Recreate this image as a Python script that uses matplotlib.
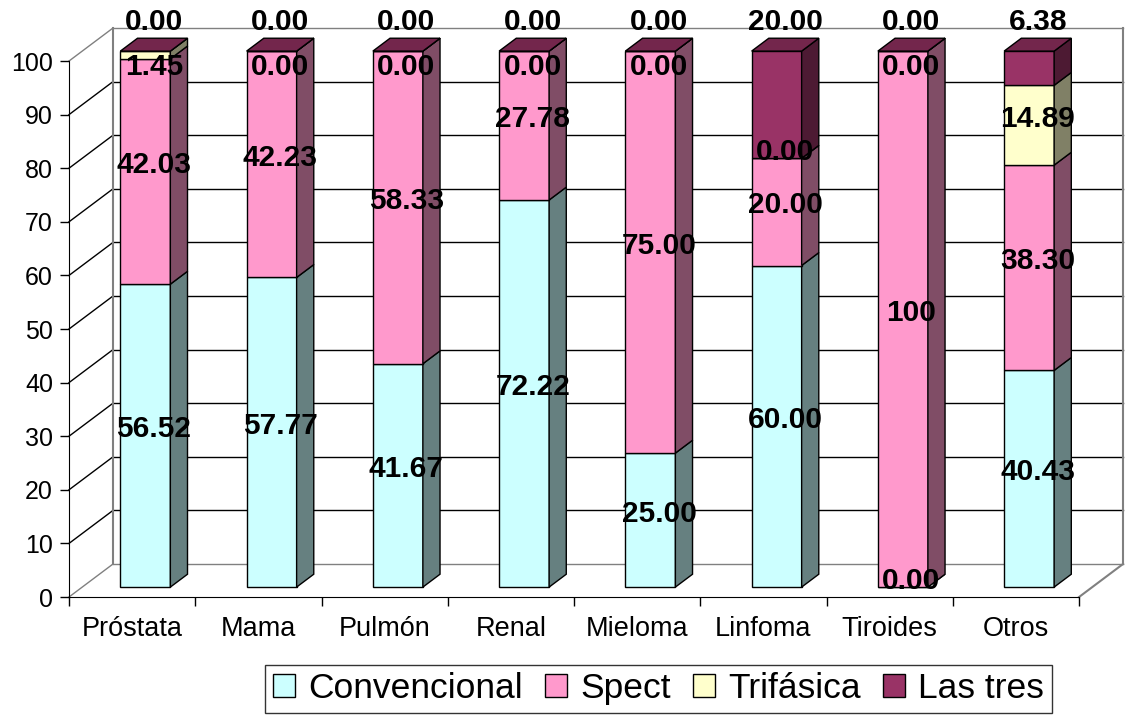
import matplotlib.pyplot as plt
from matplotlib.patches import Polygon, Patch

# Share of each technique per tumour type (%)
categories = ['Próstata', 'Mama', 'Pulmón', 'Renal', 'Mieloma', 'Linfoma', 'Tiroides', 'Otros']
series = ['Convencional', 'Spect', 'Trifásica', 'Las tres']
convencional = [56.52, 57.77, 41.67, 72.22, 25.00, 60.00, 0.00, 40.43]
spect = [42.03, 42.23, 58.33, 27.78, 75.00, 20.00, 100, 38.30]
trifasica = [1.45, 0.00, 0.00, 0.00, 0.00, 0.00, 0.00, 14.89]
las_tres = [0.00, 0.00, 0.00, 0.00, 0.00, 20.00, 0.00, 6.38]

front_colors = ['#CCFFFF', '#FF99CC', '#FFFFCC', '#993366']
side_colors = ['#668080', '#804D66', '#808066', '#4D1A33']
top_color = '#73264C'
gray = '#808080'

plt.rcParams['font.family'] = ['Liberation Sans', 'DejaVu Sans']

# fake 3D: depth of the box in x (categories) and y (percent) units
DX, DY = 0.3485, 6.16
F1, F2 = 0.30, 0.69   # front / back of the columns inside the depth
FM = (F1 + F2) / 2
W = 0.396

fig = plt.figure(figsize=(11.26, 7.16), dpi=100)
ax = fig.add_axes([0.0613, 0.1662, 0.9361, 0.7947])
ax.set_xlim(-0.5, len(categories) - 0.5 + DX)
ax.set_ylim(0, 100 + DY)
xr = len(categories) - 0.5

# walls and floor
for v in range(0, 101, 10):
    c = gray if v in (0, 100) else 'black'
    ax.plot([-0.5 + DX, xr + DX], [v + DY, v + DY], color=c, lw=1, zorder=1, clip_on=False)
    ax.plot([-0.5, -0.5 + DX], [v, v + DY], color=c, lw=1, zorder=1, clip_on=False)
ax.plot([-0.5 + DX] * 2, [DY, 100 + DY], color=gray, lw=1.5, zorder=1, clip_on=False)
ax.plot([xr + DX] * 2, [DY, 100 + DY], color=gray, lw=1.5, zorder=1, clip_on=False)
ax.plot([xr, xr + DX], [0, DY], color=gray, lw=1.5, zorder=1, clip_on=False)

# stacked columns
stack = [convencional, spect, trifasica, las_tres]
xs = [i + F1 * DX for i in range(len(categories))]
ddx, ddy = (F2 - F1) * DX, (F2 - F1) * DY
bottoms = []
base = [0.0] * len(categories)
for s, vals in enumerate(stack):
    bottoms.append(base[:])
    ax.bar(xs, vals, bottom=[b + F1 * DY for b in base], width=W,
           color=front_colors[s], edgecolor='black', linewidth=1, zorder=3)
    for i, v in enumerate(vals):
        xe = xs[i] + W / 2
        b, t = base[i] + F1 * DY, base[i] + v + F1 * DY
        ax.add_patch(Polygon([(xe, b), (xe + ddx, b + ddy), (xe + ddx, t + ddy), (xe, t)],
                             closed=True, facecolor=side_colors[s], edgecolor='black',
                             linewidth=1, zorder=3))
    base = [b + v for b, v in zip(base, vals)]

for i, total in enumerate(base):
    xl, xe = xs[i] - W / 2, xs[i] + W / 2
    t = total + F1 * DY
    ax.add_patch(Polygon([(xl, t), (xe, t), (xe + ddx, t + ddy), (xl + ddx, t + ddy)],
                         closed=True, facecolor=top_color, edgecolor='black',
                         linewidth=1, zorder=4))

# value labels (last series goes in a row above the box)
for s, vals in enumerate(stack):
    for i, v in enumerate(vals):
        if s == len(stack) - 1:
            y = 107.3
        else:
            y = min(bottoms[s][i] + v / 2 + FM * DY, 98.9)
        txt = '100' if v == 100 else f'{v:.2f}'
        ax.text(i + FM * DX, y, txt, ha='center', va='center', fontsize=21.5,
                fontweight='bold', zorder=10, clip_on=False)

# axes
for side in ['top', 'right']:
    ax.spines[side].set_visible(False)
ax.spines['left'].set_bounds(0, 100)
ax.spines['bottom'].set_bounds(-0.5, xr)
ax.spines['left'].set_zorder(2)
ax.spines['bottom'].set_zorder(2)
ax.set_yticks(range(0, 101, 10))
ax.tick_params(axis='y', direction='out', length=6.5, width=1, pad=5, labelsize=18)
ax.set_xticks([i - 0.5 for i in range(len(categories) + 1)])
ax.set_xticklabels([])
ax.set_xticks(range(len(categories)), minor=True)
ax.set_xticklabels(categories, minor=True)
ax.tick_params(axis='x', which='major', direction='out', length=6.5, width=1)
ax.tick_params(axis='x', which='minor', length=0, pad=14, labelsize=19.5)
ax.patch.set_visible(False)

handles = [Patch(facecolor=c, edgecolor='black', linewidth=1) for c in front_colors]
leg = fig.legend(handles, series, loc='center', bbox_to_anchor=(0.585, 0.038), ncol=4,
                 fontsize=25.5, frameon=True, fancybox=False, edgecolor='black',
                 handlelength=0.62, handleheight=0.62, handletextpad=0.38,
                 columnspacing=0.62, borderpad=0.22, borderaxespad=0)
leg.get_frame().set_linewidth(1)

fig.savefig('out.png', dpi=100)
